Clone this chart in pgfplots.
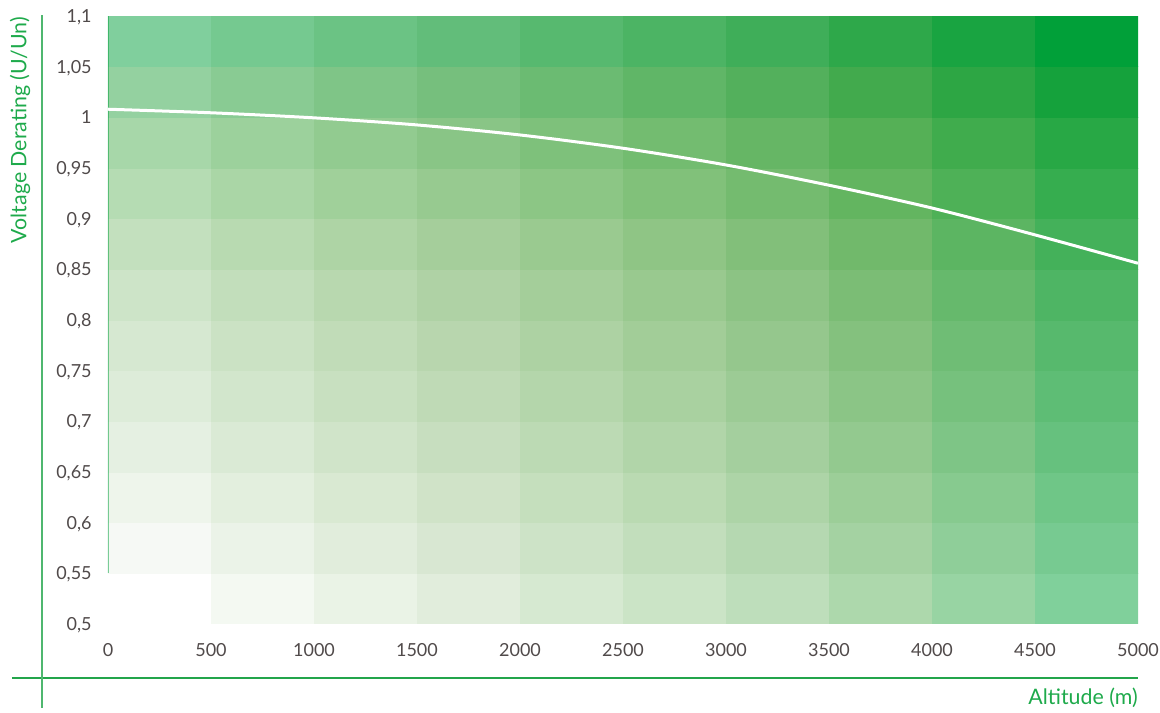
\documentclass[border=0pt]{standalone}
\usepackage{pgfplots}
\pgfplotsset{compat=1.18}
\usepackage{fontspec}
\setmainfont{Lato}
\definecolor{tickgray}{RGB}{80,74,74}
\definecolor{labgreen}{RGB}{30,170,75}
\definecolor{linegreen}{RGB}{35,165,75}
\definecolor{basegreen}{RGB}{0,161,58}
\begin{document}
\begin{tikzpicture}
\begin{axis}[
  name=ax,
  scale only axis,
  width=618pt, height=364.8pt,
  xmin=0, xmax=5000, ymin=0.5, ymax=1.1,
  axis line style={draw=none},
  tick style={draw=none},
  major tick length=0pt,
  /pgf/number format/assume math mode=true,
  xtick={0,500,1000,1500,2000,2500,3000,3500,4000,4500,5000},
  xticklabels={0,500,1000,1500,2000,2500,3000,3500,4000,4500,5000},
  ytick={0.5,0.55,0.6,0.65,0.7,0.75,0.8,0.85,0.9,0.95,1,1.05,1.1},
  yticklabels={{0,5},{0,55},{0,6},{0,65},{0,7},{0,75},{0,8},{0,85},{0,9},{0,95},{1},{1,05},{1,1}},
  every tick label/.append style={font=\fontsize{10.8}{12}\selectfont, text=tickgray},
  xticklabel style={anchor=base, inner sep=0pt, yshift=-19.8pt},
  yticklabel style={anchor=base east, inner sep=0pt, xshift=-9.6pt, yshift=-3.9pt},
  xlabel={Altitude (m)},
  ylabel={Voltage Derating (U/Un)},
  every axis x label/.style={at={(axis description cs:1,0)}, anchor=base east, inner sep=0pt, yshift=-48.6pt, font=\fontsize{12.8}{14}\selectfont, text=labgreen},
  every axis y label/.style={at={(axis description cs:-0.0854,0.8125)}, anchor=center, rotate=90, inner sep=0pt, font=\fontsize{12.8}{14}\selectfont, text=labgreen},
]
\pgfplotsforeachungrouped \ci in {0,...,9}{%
  \pgfplotsforeachungrouped \ri in {0,...,11}{%
    \pgfmathtruncatemacro\cR{{255,244,234,225,214,203,190,173,152,128}[\ci]-{0,9,17,26,34,41,50,60,74,88,107,127}[\ri]}%
    \pgfmathtruncatemacro\cG{{255,249,243,237,233,228,222,216,212,208}[\ci]-{0,6,10,15,19,23,27,31,35,40,46,48}[\ri]}%
    \pgfmathtruncatemacro\cB{{255,242,230,220,209,198,187,172,163,155}[\ci]-{0,10,20,29,38,46,55,65,76,86,95,98}[\ri]}%
    \pgfmathsetmacro\xa{500*\ci}\pgfmathsetmacro\xb{500*\ci+500}%
    \pgfmathsetmacro\ya{0.5+0.05*\ri}\pgfmathsetmacro\yb{0.55+0.05*\ri}%
    \edef\temp{\noexpand\addplot[forget plot, draw={rgb,255:red,\cR;green,\cG;blue,\cB}, line width=0.2pt, fill={rgb,255:red,\cR;green,\cG;blue,\cB}] coordinates {(\xa,\ya) (\xb,\ya) (\xb,\yb) (\xa,\yb)} -- cycle;}%
    \temp
  }%
}
\addplot[forget plot, basegreen, opacity=0.5, line width=0.7pt] coordinates {(0,0.55) (0,1.1)};
\addplot[white, line width=1.8pt, smooth] coordinates {(0,1.008) (500,1.0045) (1000,0.9995) (1500,0.9925) (2000,0.9826) (2500,0.9695) (3000,0.953) (3500,0.933) (4000,0.9105) (4500,0.884) (5000,0.856)};
\end{axis}
\draw[linegreen, line width=0.9pt] ([xshift=-57.6pt, yshift=-32.4pt]ax.south west) -- ([yshift=-32.4pt]ax.south east);
\draw[linegreen!80, line width=0.9pt] ([xshift=-39.6pt, yshift=-50.4pt]ax.south west) -- ([xshift=-39.6pt, yshift=0.6pt]ax.north west);
\pgfresetboundingbox
\path ([xshift=-64.8pt,yshift=-53.4pt]ax.south west) rectangle ([xshift=631.2pt,yshift=374.4pt]ax.south west);
\end{tikzpicture}
\end{document}
